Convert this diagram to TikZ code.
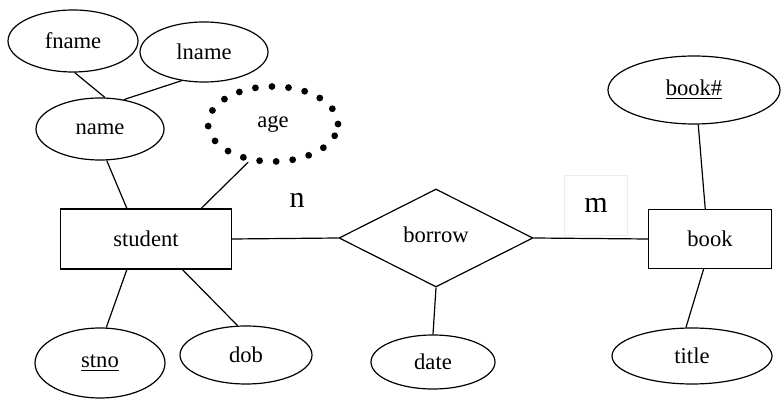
\documentclass[tikz,border=0pt]{standalone}
\usepackage{fontspec}
\setmainfont{Liberation Serif}
\usetikzlibrary{shapes.geometric}
\begin{document}
\begin{tikzpicture}[x=0.5pt,y=-0.5pt,
  every node/.style={font=\fontsize{11.3}{13}\selectfont, inner sep=0pt},
  attr/.style={ellipse, draw, line width=0.6pt},
  ent/.style={rectangle, draw, line width=0.6pt},
  rel/.style={diamond, draw, line width=0.6pt},
  conn/.style={line width=0.6pt},
  card/.style={font=\fontsize{15}{17}\selectfont}]
\useasboundingbox (0,0) rectangle (782,400);
% attributes
\node[attr, minimum width=65pt, minimum height=31pt] (fname) at (73,41) {fname};
\node[attr, minimum width=64pt, minimum height=30pt] (lname) at (204,52) {lname};
\node[attr, minimum width=64pt, minimum height=31pt] (name) at (100,129) {name};
\node[ellipse, draw, line width=3.4pt, line cap=round, dash pattern=on 0pt off 8.3pt,
      minimum width=65pt, minimum height=37.5pt] (age) at (273,124) {age};
\node[attr, minimum width=65pt, minimum height=35pt] (stno) at (100,363) {\underline{stno}};
\node[attr, minimum width=66pt, minimum height=29pt] (dob) at (246,355) {dob};
\node[attr, minimum width=62pt, minimum height=27pt] (date) at (433,362) {date};
\node[attr, minimum width=86pt, minimum height=34pt] (booknr) at (694,90) {\underline{book\#}};
\node[attr, minimum width=80pt, minimum height=28pt] (title) at (692,356) {title};
% entities and relationship
\node[ent, minimum width=85.5pt, minimum height=30pt] (student) at (146,239) {student};
\node[ent, minimum width=61.5pt, minimum height=29.5pt] (book) at (710,239) {book};
\node[rel, minimum width=97pt, minimum height=49pt] (borrow) at (436,238) {\raisebox{3pt}{borrow}};
% cardinalities
\node[card] (n) at (297,200) {n};
\node[card, draw=black!7, minimum width=31.5pt, minimum height=30pt] (m) at (596,205) {m};
% connectors
\draw[conn] (fname.-87) -- (name.81);
\draw[conn] (lname.-128) -- (name.51);
\draw[conn] (name.-78) -- (student.122);
\draw[conn] (age.-123) -- (student.29);
\draw[conn] (student.-122) -- (stno.80);
\draw[conn] (student.-40) -- (dob.106);
\draw[conn] (student.east) -- (borrow.west);
\draw[conn] (borrow.east) -- (book.west);
\draw[conn] (borrow.south) -- (date.north);
\draw[conn] (booknr.-83) -- (book.99);
\draw[conn] (book.-102) -- (title.102);
\end{tikzpicture}
\end{document}
